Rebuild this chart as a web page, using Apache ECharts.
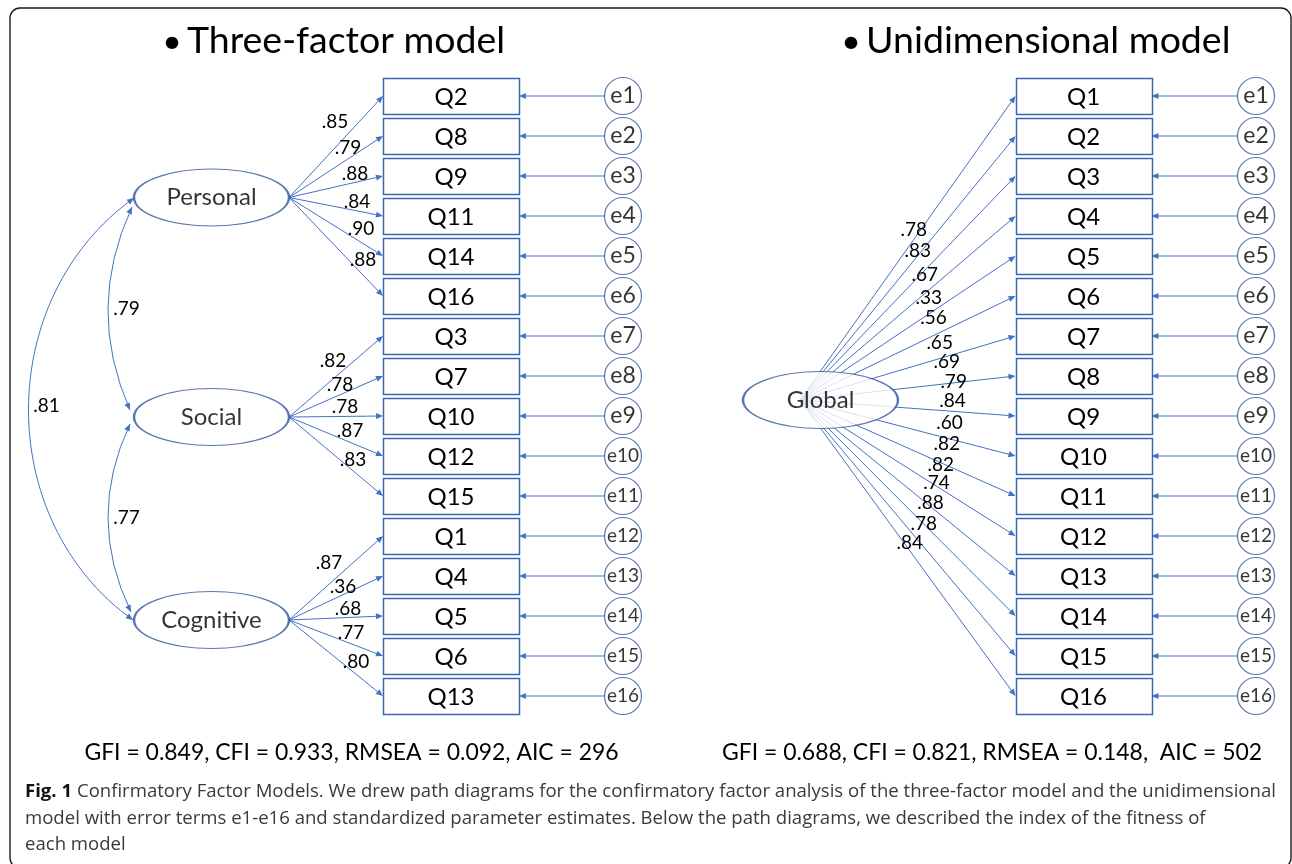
<!DOCTYPE html>
<html><head><meta charset="utf-8">
<script src="https://cdn.jsdelivr.net/npm/echarts@6/dist/echarts.min.js"></script>
<style>html,body{margin:0;padding:0;background:#fff}#c{width:1292px;height:864px}</style>
</head><body><div id="c"></div>
<script>
// ---------------- DATA ----------------
const personalItems = ['Q2','Q8','Q9','Q11','Q14','Q16'];
const personalLoadings = [0.85,0.79,0.88,0.84,0.90,0.88];
const socialItems = ['Q3','Q7','Q10','Q12','Q15'];
const socialLoadings = [0.82,0.78,0.78,0.87,0.83];
const cognitiveItems = ['Q1','Q4','Q5','Q6','Q13'];
const cognitiveLoadings = [0.87,0.36,0.68,0.77,0.80];
const factorNames = ['Personal','Social','Cognitive'];
const correlations = [['Personal','Social',0.79],['Social','Cognitive',0.77],['Personal','Cognitive',0.81]];
const globalName = 'Global';
const globalItems = ['Q1','Q2','Q3','Q4','Q5','Q6','Q7','Q8','Q9','Q10','Q11','Q12','Q13','Q14','Q15','Q16'];
const globalLoadings = [0.78,0.83,0.67,0.33,0.56,0.65,0.69,0.79,0.84,0.60,0.82,0.82,0.74,0.88,0.78,0.84];
const errorTerms = ['e1','e2','e3','e4','e5','e6','e7','e8','e9','e10','e11','e12','e13','e14','e15','e16'];
const titleLeft = 'Three-factor model';
const titleRight = 'Unidimensional model';
const fitLeft = 'GFI = 0.849, CFI = 0.933, RMSEA = 0.092, AIC = 296';
const fitRight = 'GFI = 0.688, CFI = 0.821, RMSEA = 0.148,  AIC = 502';
const captionBold = 'Fig. 1';
const captionLines = [
  'Confirmatory Factor Models. We drew path diagrams for the confirmatory factor analysis of the three-factor model and the unidimensional',
  'model with error terms e1-e16 and standardized parameter estimates. Below the path diagrams, we described the index of the fitness of',
  'each model'
];

// ---------------- LAYOUT ----------------
const ROW0 = 96, PITCH = 40;
const rowY = r => ROW0 + PITCH * r;
const BOX_W = 136, BOX_H = 36, ERR_R = 18.5, ELL_W = 155, ELL_H = 57;
const LEFT = { boxX: 451, errX: 623, facX: 211.5, facDY: [1.5, 1, 4] };
const RIGHT = { boxX: 1083.5, errX: 1256, facX: 820.5, facDY: 4, srcX: 800 };
const LINE_C = '#4472C4', BOX_C = '#3D65AE', ELL_C = '#2F5597', TXT = '#000';
const AH_L = 7, AH_W = 3;
// label placement along each loading path: [t along path, lift in px]
const LBL_P = [[.489,26],[.628,11],[.702,8.5],[.723,9],[.766,13],[.787,15]];
const LBL_S = [[.468,18],[.543,10],[.596,9.5],[.649,11],[.681,11]];
const LBL_C = [[.426,21],[.574,8],[.628,8.5],[.66,11],[.713,12]];
const LBL_G = [[.528,9.5],[.546,5],[.579,-4.5],[.597,-8],[.620,-7],[.648,-10],[.681,-5.5],[.713,1],
               [.708,10],[.694,16],[.681,22],[.653,24],[.634,28.5],[.606,28],[.574,23],[.509,7.5]];

const fmt = v => v.toFixed(2).replace(/^0/, '');

function measure(text, font) {
  const c = document.createElement('canvas').getContext('2d');
  c.font = font; return c.measureText(text).width;
}
const FONT = 'Lato';
const CAPF = "'Open Sans'";
const fitSize = (text, fam, wt, w) => 100 * w / measure(text, `${wt} 100px ${fam}`);

// ---- build nodes ----
const leftGroups = [
  { name: 'Personal', items: personalItems, loads: personalLoadings, lbl: LBL_P },
  { name: 'Social', items: socialItems, loads: socialLoadings, lbl: LBL_S },
  { name: 'Cognitive', items: cognitiveItems, loads: cognitiveLoadings, lbl: LBL_C }
];
const boxes = [], ellipses = [], errs = [], edges = [], labels = [];
let row = 0;
const facPos = {};
leftGroups.forEach((g, gi) => {
  const first = row, last = row + g.items.length - 1;
  const fy = (rowY(first) + rowY(last)) / 2 + LEFT.facDY[gi];
  facPos[g.name] = [LEFT.facX, fy];
  ellipses.push({ name: g.name, value: [LEFT.facX, fy] });
  const src = [LEFT.facX + ELL_W / 2, fy];
  g.items.forEach((q, k) => {
    const y = rowY(row);
    boxes.push({ name: q, pos: [LEFT.boxX, y] });
    const tgt = [LEFT.boxX - BOX_W / 2, y];
    edges.push({ kind: 'line', p0: src, p1: tgt });
    const [t, lift] = g.lbl[k];
    labels.push({ text: fmt(g.loads[k]), pos: [src[0] + t * (tgt[0] - src[0]), src[1] + t * (tgt[1] - src[1]) - lift] });
    row++;
  });
});
for (let r = 0; r < 16; r++) {
  const y = rowY(r);
  errs.push({ name: errorTerms[r], value: [LEFT.errX, y] });
  edges.push({ kind: 'line', p0: [LEFT.errX - ERR_R, y], p1: [LEFT.boxX + BOX_W / 2, y], w: 1.2 });
}
const fp = n => facPos[n];
const corrGeom = {
  'Personal-Social': { a: [-79.5, 9.5], b: [-81.5, -7], bulge: -46 },
  'Social-Cognitive': { a: [-81.5, 7], b: [-80.5, -8], bulge: -45 },
  'Personal-Cognitive': { a: [-77.5, 0.5], b: [-78.5, 0], cubic: [-140, 100] }
};
const corrLabelPos = { 'Personal-Social': [-85, 0], 'Social-Cognitive': [-85, 0], 'Personal-Cognitive': [-165, -3] };
correlations.forEach(([a, b, v]) => {
  const key = a + '-' + b, g = corrGeom[key];
  const A = fp(a), B = fp(b);
  const p0 = [A[0] + g.a[0], A[1] + g.a[1]], p1 = [B[0] + g.b[0], B[1] + g.b[1]];
  const mid = [(p0[0] + p1[0]) / 2, (p0[1] + p1[1]) / 2];
  if (g.cubic) {
    edges.push({ kind: 'cubic', p0, p1, c1: [p0[0] + g.cubic[0], p0[1] + g.cubic[1]], c2: [p1[0] + g.cubic[0], p1[1] - g.cubic[1]] });
  } else {
    edges.push({ kind: 'quad', p0, p1, c1: [mid[0] + g.bulge, mid[1]] });
  }
  const lp = corrLabelPos[key];
  labels.push({ text: fmt(v), pos: [A[0] + lp[0], mid[1] + lp[1]] });
});
const gy = (rowY(0) + rowY(15)) / 2 + RIGHT.facDY;
ellipses.push({ name: globalName, value: [RIGHT.facX, gy] });
globalItems.forEach((q, r) => {
  const y = rowY(r);
  boxes.push({ name: q, pos: [RIGHT.boxX, y] });
  const src = [RIGHT.srcX, gy], tgt = [RIGHT.boxX - BOX_W / 2, y];
  edges.push({ kind: 'line', p0: src, p1: tgt });
  const [t, lift] = LBL_G[r];
  labels.push({ text: fmt(globalLoadings[r]), pos: [src[0] + t * (tgt[0] - src[0]), src[1] + t * (tgt[1] - src[1]) - lift] });
  errs.push({ name: errorTerms[r], value: [RIGHT.errX, y] });
  edges.push({ kind: 'line', p0: [RIGHT.errX - ERR_R, y], p1: [RIGHT.boxX + BOX_W / 2, y], w: 1.2 });
});

// ---------------- RENDER ----------------
function head(tip, dir) {
  const len = Math.hypot(dir[0], dir[1]); const d = [dir[0] / len, dir[1] / len]; const n = [-d[1], d[0]];
  const b = [tip[0] - d[0] * AH_L, tip[1] - d[1] * AH_L];
  return { type: 'polygon', shape: { points: [tip, [b[0] + n[0] * AH_W, b[1] + n[1] * AH_W], [b[0] - n[0] * AH_W, b[1] - n[1] * AH_W]] }, style: { fill: LINE_C } };
}
function renderEdge(params, api) {
  const e = edges[params.dataIndex];
  const P = p => api.coord(p);
  const st = { stroke: LINE_C, lineWidth: e.w || 1, fill: null };
  const a = P(e.p0), b = P(e.p1);
  const ch = [];
  if (e.kind === 'line') {
    const dx = b[0] - a[0], dy = b[1] - a[1], L = Math.hypot(dx, dy);
    const end = [b[0] - dx / L * (AH_L - 1), b[1] - dy / L * (AH_L - 1)];
    ch.push({ type: 'line', shape: { x1: a[0], y1: a[1], x2: end[0], y2: end[1] }, style: st });
    ch.push(head(b, [dx, dy]));
  } else if (e.kind === 'quad') {
    const c = P(e.c1);
    ch.push({ type: 'bezierCurve', shape: { x1: a[0], y1: a[1], x2: b[0], y2: b[1], cpx1: c[0], cpy1: c[1] }, style: st });
    ch.push(head(a, [a[0] - c[0], a[1] - c[1]]));
    ch.push(head(b, [b[0] - c[0], b[1] - c[1]]));
  } else {
    const c1 = P(e.c1), c2 = P(e.c2);
    ch.push({ type: 'bezierCurve', shape: { x1: a[0], y1: a[1], x2: b[0], y2: b[1], cpx1: c1[0], cpy1: c1[1], cpx2: c2[0], cpy2: c2[1] }, style: st });
    ch.push(head(a, [a[0] - c1[0], a[1] - c1[1]]));
    ch.push(head(b, [b[0] - c2[0], b[1] - c2[1]]));
  }
  return { type: 'group', children: ch };
}
function renderBox(params, api) {
  const bx = boxes[params.dataIndex];
  const c = api.coord(bx.pos);
  return { type: 'group', children: [
    { type: 'rect', shape: { x: Math.round(c[0] - BOX_W / 2) + 0.5, y: Math.round(c[1] - BOX_H / 2) + 0.5, width: BOX_W, height: BOX_H },
      style: { fill: '#fff', stroke: BOX_C, lineWidth: 1.5 } },
    { type: 'text', x: c[0], y: c[1] + 1, style: { text: bx.name, fontSize: 24, fontFamily: FONT, fill: TXT, align: 'center', verticalAlign: 'middle' } }
  ] };
}
function renderLabel(params, api) {
  const l = labels[params.dataIndex];
  const p = api.coord(l.pos);
  return { type: 'text', x: p[0], y: p[1], style: { text: l.text, fontSize: 19, fontFamily: FONT, fill: TXT, align: 'center', verticalAlign: 'middle' } };
}

const titleSize = (fitSize(titleLeft, FONT, 'normal', 316) + fitSize(titleRight, FONT, 'normal', 367)) / 2;
const fitSizeL = (fitSize(fitLeft, FONT, 'normal', 535) + fitSize(fitRight, FONT, 'normal', 540)) / 2;
const capBoldW100 = measure(captionBold + ' ', `bold 100px ${CAPF}`);
const capNormW100 = measure(captionLines[0], `normal 100px ${CAPF}`);
const capSize = 100 * 1252 / (capBoldW100 + capNormW100);
const capBoldW = capBoldW100 * capSize / 100;

function txt(text, x, y, size, fam, opts = {}) {
  return { type: 'text', x, y, silent: true, z: 10, style: Object.assign({ text, fontSize: size, fontFamily: fam, fill: TXT,
    align: 'left', verticalAlign: 'middle', textAlign: 'left', textVerticalAlign: 'middle' }, opts) };
}
const ctr = { align: 'center', textAlign: 'center' };
const graphics = [
  { type: 'rect', shape: { x: 10, y: 8, width: 1281, height: 860, r: 10 }, style: { fill: null, stroke: '#1a1a1a', lineWidth: 1.4 }, silent: true },
  txt('•', 172, 42, titleSize * 0.9, FONT, ctr),
  txt(titleLeft, 187, 41, titleSize, FONT),
  txt('•', 851, 42, titleSize * 0.9, FONT, ctr),
  txt(titleRight, 866, 41, titleSize, FONT),
  txt(fitLeft, 351.5, 753, fitSizeL, FONT, ctr),
  txt(fitRight, 992, 753, fitSizeL, FONT, ctr),
  txt(captionBold, 25, 792, capSize, CAPF, { fontWeight: 'bold', fill: '#111' }),
  txt(captionLines[0], 25 + capBoldW, 792, capSize, CAPF, { fill: '#3a3a3a' }),
  txt(captionLines[1], 25, 819, capSize, CAPF, { fill: '#3a3a3a' }),
  txt(captionLines[2], 25, 845, capSize, CAPF, { fill: '#3a3a3a' })
];

const chart = echarts.init(document.getElementById('c'));
chart.setOption({
  animation: false,
  backgroundColor: '#fff',
  grid: { left: 0, right: 0, top: 0, bottom: 0 },
  xAxis: { type: 'value', min: 0, max: 1292, show: false },
  yAxis: { type: 'value', min: 0, max: 864, inverse: true, show: false },
  graphic: graphics,
  series: [
    { type: 'custom', z: 2, silent: true, renderItem: renderEdge, encode: { x: 0, y: 1 }, data: edges.map(e => e.p1) },
    { type: 'custom', z: 3, silent: true, renderItem: renderBox, encode: { x: 0, y: 1 }, data: boxes.map(b => b.pos) },
    { type: 'scatter', z: 3, silent: true, symbol: 'circle', symbolSize: [ELL_W, ELL_H], data: ellipses,
      itemStyle: { color: '#fff', borderColor: ELL_C, borderWidth: 1.5 },
      label: { show: true, position: 'inside', formatter: '{b}', fontFamily: FONT, fontSize: 24, color: TXT },
      emphasis: { disabled: true } },
    { type: 'scatter', z: 3, silent: true, symbol: 'circle', symbolSize: ERR_R * 2,
      data: errs.map(e => ({ name: e.name, value: e.value, label: { fontSize: e.name.length > 2 ? 19 : 23 } })),
      itemStyle: { color: '#fff', borderColor: ELL_C, borderWidth: 1.2 },
      label: { show: true, position: 'inside', formatter: '{b}', fontFamily: FONT, color: TXT },
      emphasis: { disabled: true } },
    { type: 'custom', z: 4, silent: true, renderItem: renderLabel, encode: { x: 0, y: 1 }, data: labels.map(l => l.pos) }
  ]
});
</script></body></html>
